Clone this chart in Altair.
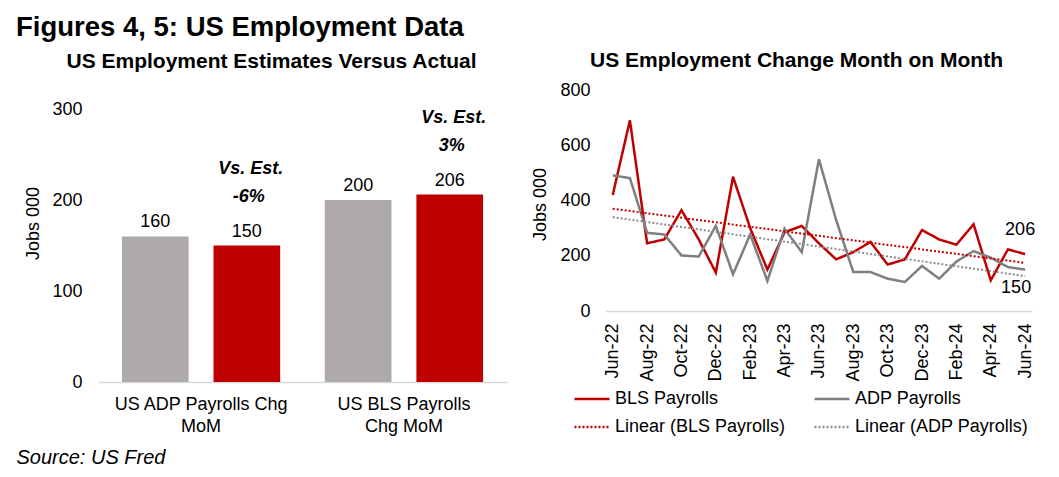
import altair as alt
import pandas as pd

FONT = "Liberation Sans"
RED = "#C00000"
GRAY_BAR = "#AEAAAA"
GRAY_LINE = "#7F7F7F"
GRAY_TREND = "#8C8C8C"
AXIS_LINE = "#D9D9D9"

# ---- left panel data ----
categories = ["US ADP Payrolls Chg MoM", "US BLS Payrolls Chg MoM"]
category_lines = [["US ADP Payrolls Chg", "MoM"], ["US BLS Payrolls", "Chg MoM"]]
estimates = [160, 200]
actuals = [150, 206]
vs_est = ["-6%", "3%"]
kinds = ["Estimate", "Actual"]

# ---- right panel data ----
months = ["Jun-22", "Jul-22", "Aug-22", "Sep-22", "Oct-22", "Nov-22", "Dec-22",
          "Jan-23", "Feb-23", "Mar-23", "Apr-23", "May-23", "Jun-23", "Jul-23",
          "Aug-23", "Sep-23", "Oct-23", "Nov-23", "Dec-23", "Jan-24", "Feb-24",
          "Mar-24", "Apr-24", "May-24", "Jun-24"]
bls = [420, 690, 245, 259, 365, 260, 139, 486, 300, 150, 285, 308, 245,
       187, 213, 250, 168, 187, 293, 259, 240, 314, 111, 223, 206]
adp = [491, 481, 283, 277, 201, 197, 308, 133, 277, 109, 298, 213, 549,
       330, 141, 141, 117, 105, 163, 117, 179, 217, 193, 159, 150]
series_domain = ["BLS Payrolls", "ADP Payrolls",
                 "Linear (BLS Payrolls)", "Linear (ADP Payrolls)"]
legend_order = ["BLS Payrolls", "Linear (BLS Payrolls)",
                "ADP Payrolls", "Linear (ADP Payrolls)"]

# ---------------- left chart ----------------
bar_df = pd.DataFrame({
    "category": categories * 2,
    "kind": [kinds[0]] * 2 + [kinds[1]] * 2,
    "value": estimates + actuals,
})
ann_df = pd.DataFrame({
    "category": categories,
    "kind": [kinds[1]] * 2,
    "value": actuals,
    "vs": vs_est,
})

label_expr_left = " : ".join(
    [f"datum.label == '{c}' ? {lines!r}" for c, lines in zip(categories, category_lines)]
    + ["datum.label"]
)

xl = alt.X(
    "category:N", sort=categories,
    scale=alt.Scale(paddingInner=0.22, paddingOuter=0.118),
    axis=alt.Axis(
        labelExpr=label_expr_left, labelAngle=0, ticks=False,
        domainColor=AXIS_LINE, domainWidth=1.5, labelFontSize=18, labelPadding=13,
        labelLineHeight=22, labelColor="black",
        title="Source: US Fred", titleFontStyle="italic", titleFontWeight="normal",
        titleFontSize=20, titleAnchor="start", titleAlign="left",
        titleBaseline="alphabetic", titleX=-82, titleY=81, titleColor="black",
    ),
)
xo = alt.XOffset("kind:N", sort=kinds,
                 scale=alt.Scale(paddingInner=0.272, paddingOuter=0))
yl = alt.Y(
    "value:Q", scale=alt.Scale(domain=[0, 320.9], nice=False),
    axis=alt.Axis(values=[0, 100, 200, 300], grid=False, domain=False, ticks=False,
                  labelPadding=16, labelFontSize=18, labelColor="black",
                  title="Jobs 000", titleFontWeight="normal", titleFontSize=18,
                  titleX=-56, titleY=133, titleColor="black"),
)
color_l = alt.Color("kind:N", scale=alt.Scale(domain=kinds, range=[GRAY_BAR, RED]),
                    legend=None)

bars = alt.Chart(bar_df).mark_bar().encode(x=xl, xOffset=xo, y=yl, color=color_l)
bar_labels = alt.Chart(bar_df).mark_text(
    dy=-9, baseline="alphabetic", fontSize=18, color="black"
).encode(x=xl, xOffset=xo, y=yl, text="value:Q")
ann1 = alt.Chart(ann_df).mark_text(
    dy=-72, dx=4, baseline="alphabetic", fontSize=18, fontStyle="italic",
    fontWeight="bold", color="black"
).encode(x=xl, xOffset=xo, y=yl, text=alt.value("Vs. Est."))
ann2 = alt.Chart(ann_df).mark_text(
    dy=-44, dx=2, baseline="alphabetic", fontSize=18, fontStyle="italic",
    fontWeight="bold", color="black"
).encode(x=xl, xOffset=xo, y=yl, text="vs:N")

left = alt.layer(bars, bar_labels, ann1, ann2).properties(
    width=409, height=292,
    title=alt.TitleParams("US Employment Estimates Versus Actual", fontSize=21,
                          fontWeight="bold", font=FONT, offset=18, dx=-31,
                          color="black"),
)

# ---------------- right chart ----------------
line_df = pd.DataFrame({
    "i": list(range(len(months))) * 2,
    "series": [series_domain[0]] * len(bls) + [series_domain[1]] * len(adp),
    "value": bls + adp,
})

label_expr_right = "[" + ",".join(f"'{m}'" for m in months) + "][datum.value]"
xr = alt.X(
    "i:Q", scale=alt.Scale(domain=[-0.45, 24.4], nice=False, zero=False),
    axis=alt.Axis(values=list(range(0, 25, 2)), labelExpr=label_expr_right,
                  labelAngle=270, ticks=False, grid=False, domainColor=AXIS_LINE,
                  domainWidth=1.5, labelFontSize=18, labelPadding=12,
                  labelColor="black", title=None),
)
yr = alt.Y(
    "value:Q", scale=alt.Scale(domain=[0, 800]),
    axis=alt.Axis(values=[0, 200, 400, 600, 800], grid=False, domain=False,
                  ticks=False, labelPadding=15, labelFontSize=18, labelColor="black",
                  title="Jobs 000", titleFontWeight="normal", titleFontSize=18,
                  titleX=-56, titleY=114, titleColor="black"),
)
legend = alt.Legend(
    title=None, orient="none", legendX=-32, legendY=290, columns=2,
    values=legend_order,
    symbolType="stroke", symbolSize=1225, symbolStrokeWidth=2.5,
    labelFontSize=18, labelOffset=4, labelLimit=400, labelColor="black",
    columnPadding=23, rowPadding=0,
)
color_r = alt.Color("series:N", scale=alt.Scale(
    domain=series_domain, range=[RED, GRAY_LINE, RED, GRAY_TREND]), legend=legend)
dash_r = alt.StrokeDash("series:N", scale=alt.Scale(
    domain=series_domain, range=[[1, 0], [1, 0], [2, 2], [2, 2]]), legend=legend)

lines = alt.Chart(line_df).mark_line(strokeWidth=2.5).encode(
    x=xr, y=yr, color=color_r, strokeDash=dash_r)
trends = alt.Chart(line_df).transform_regression(
    "i", "value", groupby=["series"], extent=[0, 24]
).transform_calculate(
    series="'Linear (' + datum.series + ')'"
).mark_line(strokeWidth=2).encode(x=xr, y=yr, color=color_r, strokeDash=dash_r)

last_bls = alt.Chart(line_df).transform_filter(
    f"datum.i == {len(months) - 1} && datum.series == '{series_domain[0]}'"
).mark_text(dy=-24, dx=-5, fontSize=18, color="black").encode(
    x=xr, y=yr, text="value:Q")
last_adp = alt.Chart(line_df).transform_filter(
    f"datum.i == {len(months) - 1} && datum.series == '{series_domain[1]}'"
).mark_text(dy=18, dx=-9, fontSize=18, color="black").encode(
    x=xr, y=yr, text="value:Q")

right = alt.layer(lines, trends, last_bls, last_adp).properties(
    width=427, height=221,
    title=alt.TitleParams("US Employment Change Month on Month", fontSize=21,
                          fontWeight="bold", font=FONT, offset=10, dx=-22,
                          color="black"),
)

chart = alt.hconcat(left, right, spacing=24).resolve_scale(
    color="independent", strokeDash="independent"
).properties(
    title=alt.TitleParams("Figures 4, 5: US Employment Data", anchor="start",
                          fontSize=27.5, fontWeight="bold", font=FONT, color="black",
                          offset=9),
    padding={"left": 8, "top": 5, "right": 5, "bottom": 5},
).configure(font=FONT).configure_view(stroke=None)

chart.save("out.html", embed_options={"renderer": "svg", "actions": False})
